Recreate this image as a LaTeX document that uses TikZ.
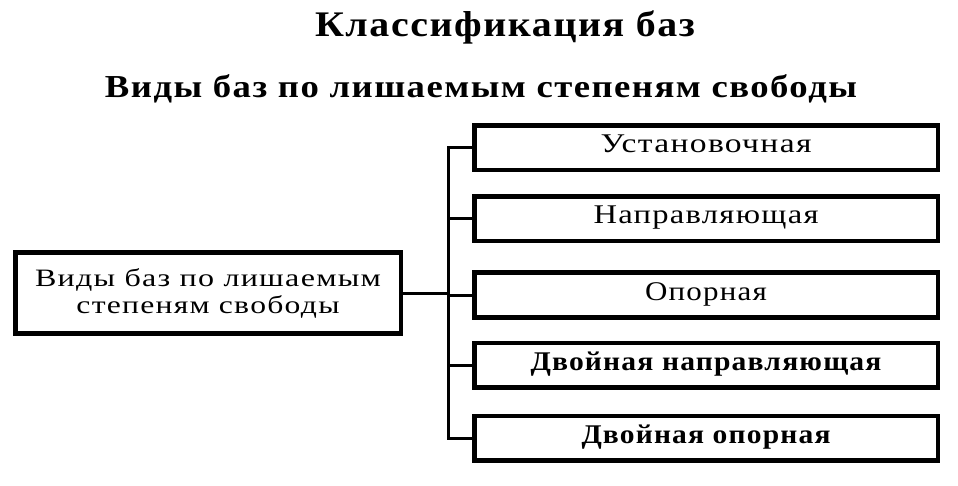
\documentclass[tikz,border=0pt]{standalone}
\usepackage{fontspec}
\setmainfont{Liberation Serif}[LetterSpace=4]
\usepackage{graphicx}
\newcommand\fitw[2]{\resizebox{#1}{\height}{#2}}
\begin{document}
\begin{tikzpicture}[x=1pt,y=-1pt,
  box/.style={draw, line width=4.5pt, minimum width=463.5pt, minimum height=44.5pt,
    inner sep=0pt, text height=17pt, text depth=7pt,
    font=\fontsize{27}{27}\selectfont},
  boldbox/.style={box, font=\fontsize{27}{27}\selectfont\bfseries},
  rootbox/.style={draw, line width=4.5pt, minimum width=385.5pt, minimum height=80.5pt,
    inner sep=0pt, align=center, font=\fontsize{25}{27}\selectfont},
  heading/.style={anchor=base, inner sep=0pt, font=\fontsize{32}{32}\selectfont\bfseries},
  link/.style={line width=3pt}]
\useasboundingbox (0,0) rectangle (958,486);
\fill[white] (0,0) rectangle (958,486);

\node[heading, font=\fontsize{36}{36}\selectfont\bfseries] (title) at (505,37) {\fitw{380pt}{Классификация баз}};
\node[heading] (subtitle) at (481,98) {\fitw{752pt}{Виды баз по лишаемым степеням свободы}};

\node[rootbox] (root) at (208,293) {\fitw{346pt}{Виды баз по лишаемым}\\\fitw{263pt}{степеням свободы}};

\node[box] (b1) at (706,148) {\fitw{211pt}{Установочная}};
\node[box] (b2) at (706,219) {\fitw{225pt}{Направляющая}};
\node[box] (b3) at (706,295) {\fitw{122pt}{Опорная}};
\node[boldbox] (b4) at (706,365) {\fitw{351pt}{Двойная направляющая}};
\node[boldbox] (b5) at (706,438) {\fitw{249pt}{Двойная опорная}};

\coordinate (bus) at (448,0);
\draw[link] (b1.west) -- (b1.west -| bus) -- (b5.west -| bus) -- (b5.west);
\draw[link] (b2.west) -- (b2.west -| bus);
\draw[link] (b3.west) -- (b3.west -| bus);
\draw[link] (b4.west) -- (b4.west -| bus);
\draw[link] (root.east) -- (root.east -| bus);
\end{tikzpicture}
\end{document}
